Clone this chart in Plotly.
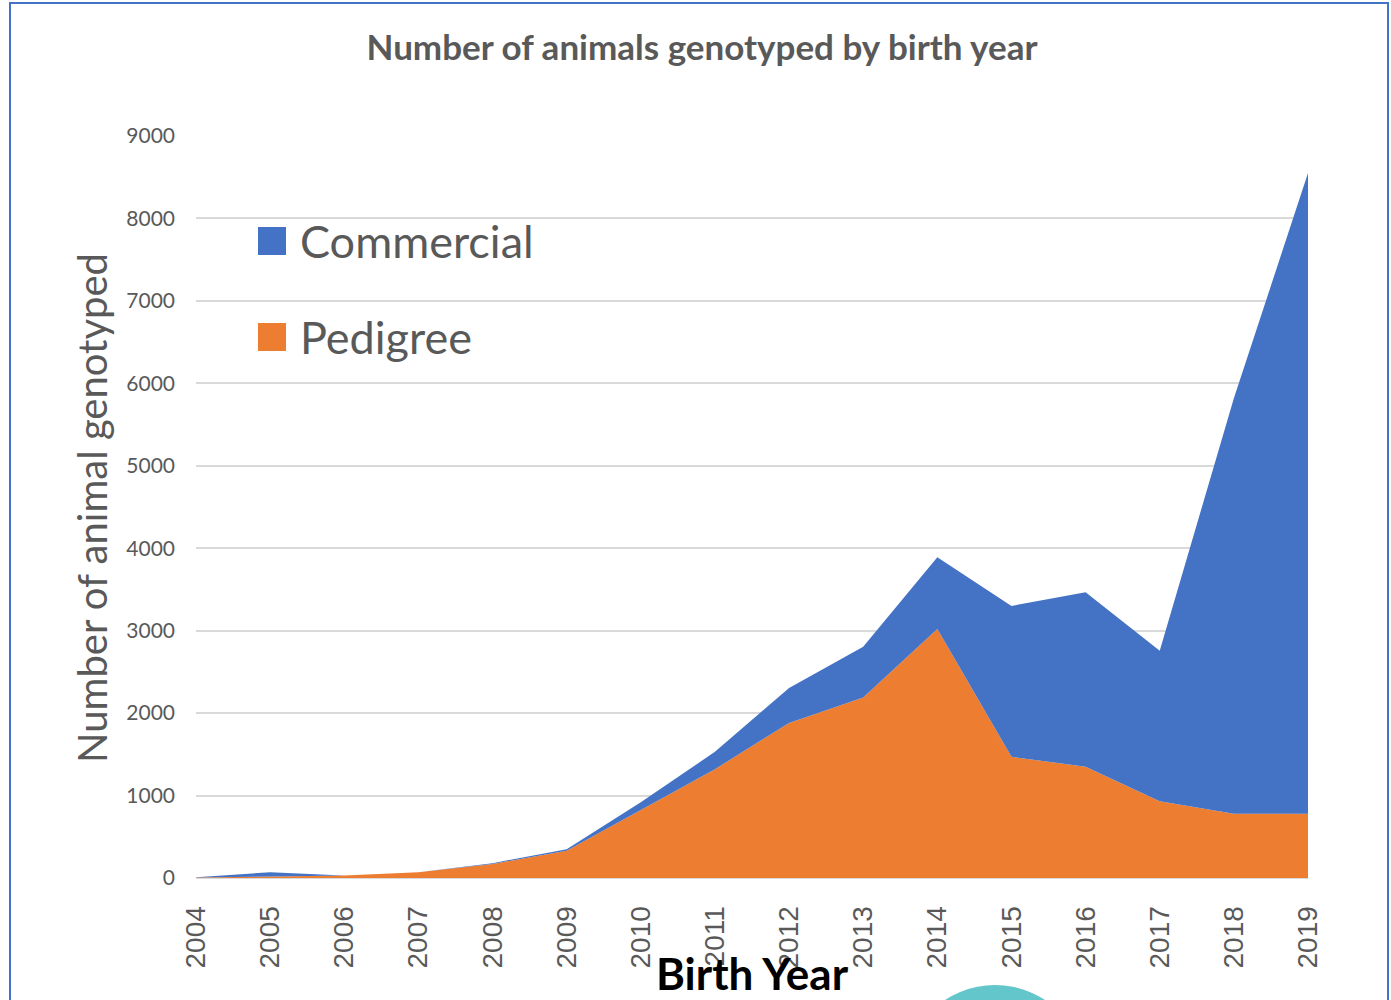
import plotly.graph_objects as go

# data
years = [2004, 2005, 2006, 2007, 2008, 2009, 2010, 2011,
         2012, 2013, 2014, 2015, 2016, 2017, 2018, 2019]
pedigree = [5, 20, 30, 70, 170, 330, 820, 1320,
            1880, 2190, 3020, 1470, 1350, 930, 780, 780]
commercial = [5, 50, 0, 0, 10, 20, 100, 210,
              425, 615, 870, 1830, 2115, 1825, 5040, 7770]
series_names = ["Pedigree", "Commercial"]
series_colors = ["#ED7D31", "#4472C4"]
y_ticks = [0, 1000, 2000, 3000, 4000, 5000, 6000, 7000, 8000, 9000]

W, H = 1391, 1000
L, R, T, B = 196, 1308, 136, 878  # plot area in pixels


def px_x(p):
    return (p - L) / (R - L)


def px_y(p):
    return (B - p) / (B - T)


fig = go.Figure()
for name, vals, col in zip(series_names, [pedigree, commercial], series_colors):
    fig.add_trace(
        go.Scatter(
            x=years,
            y=vals,
            name=name,
            stackgroup="one",
            mode="lines",
            line=dict(width=0, color=col),
            fillcolor=col,
            showlegend=False,
        )
    )

font = "Lato, 'Open Sans', sans-serif"
grey = "#595959"

fig.update_layout(
    width=W,
    height=H,
    autosize=False,
    margin=dict(l=L, r=W - R, t=T, b=H - B),
    paper_bgcolor="white",
    plot_bgcolor="white",
    font=dict(family=font, color=grey),
    title=dict(
        text="<b>Number of animals genotyped by birth year</b>",
        x=702 / W,
        xref="container",
        xanchor="center",
        y=1 - 48 / H,
        yref="container",
        yanchor="middle",
        font=dict(size=35, color=grey, family=font),
    ),
)

fig.update_xaxes(
    range=[years[0], years[-1]],
    tickvals=years,
    ticktext=[str(y) for y in years],
    tickangle=-90,
    tickfont=dict(size=28, color=grey, family="'Liberation Sans', Arial, sans-serif"),
    ticklabelstandoff=16,
    showgrid=False,
    showline=True,
    linecolor="#D9D9D9",
    linewidth=1,
    zeroline=False,
)
fig.update_yaxes(
    range=[0, 9000],
    tickvals=y_ticks,
    tickfont=dict(size=21, color=grey, family=font),
    ticklabelstandoff=20,
    showgrid=True,
    gridcolor="#D9D9D9",
    gridwidth=1.5,
    zeroline=False,
    showline=False,
)

# axis titles
fig.add_annotation(
    text="Number of animal genotyped",
    x=px_x(92), y=px_y(508), xref="paper", yref="paper",
    xanchor="center", yanchor="middle",
    textangle=-90, showarrow=False,
    font=dict(size=40, color=grey, family=font),
)
fig.add_annotation(
    text="<b>Birth Year</b>",
    x=px_x(752), y=px_y(973), xref="paper", yref="paper",
    xanchor="center", yanchor="middle",
    showarrow=False,
    font=dict(size=44, color="black", family=font),
)

# legend drawn as squares + labels (Commercial on top)
legend_rows = [("Commercial", series_colors[1], 241), ("Pedigree", series_colors[0], 337)]
for name, col, yc in legend_rows:
    fig.add_shape(
        type="rect", xref="paper", yref="paper",
        x0=px_x(258), x1=px_x(286), y0=px_y(yc - 14), y1=px_y(yc + 14),
        fillcolor=col, line=dict(width=0),
    )
    fig.add_annotation(
        text=name, x=px_x(298), y=px_y(yc), xref="paper", yref="paper",
        xanchor="left", yanchor="middle", showarrow=False,
        font=dict(size=45, color=grey, family=font),
    )

# outer frame border
fig.add_shape(
    type="rect", xref="paper", yref="paper",
    x0=px_x(10), x1=px_x(1388), y0=px_y(1040), y1=px_y(3),
    line=dict(color="#4472C4", width=2), fillcolor="rgba(0,0,0,0)",
)
# partial logo at the bottom
fig.add_shape(
    type="circle", xref="paper", yref="paper",
    x0=px_x(904), x1=px_x(1086), y0=px_y(1167), y1=px_y(985),
    fillcolor="#62C6CB", line=dict(width=0),
)

# drop the default page margin so the figure sits at the window origin
fig.write_html(
    "out.html",
    config={"displayModeBar": False},
    post_script="document.body.style.margin='0';document.body.style.overflow='hidden';",
)
